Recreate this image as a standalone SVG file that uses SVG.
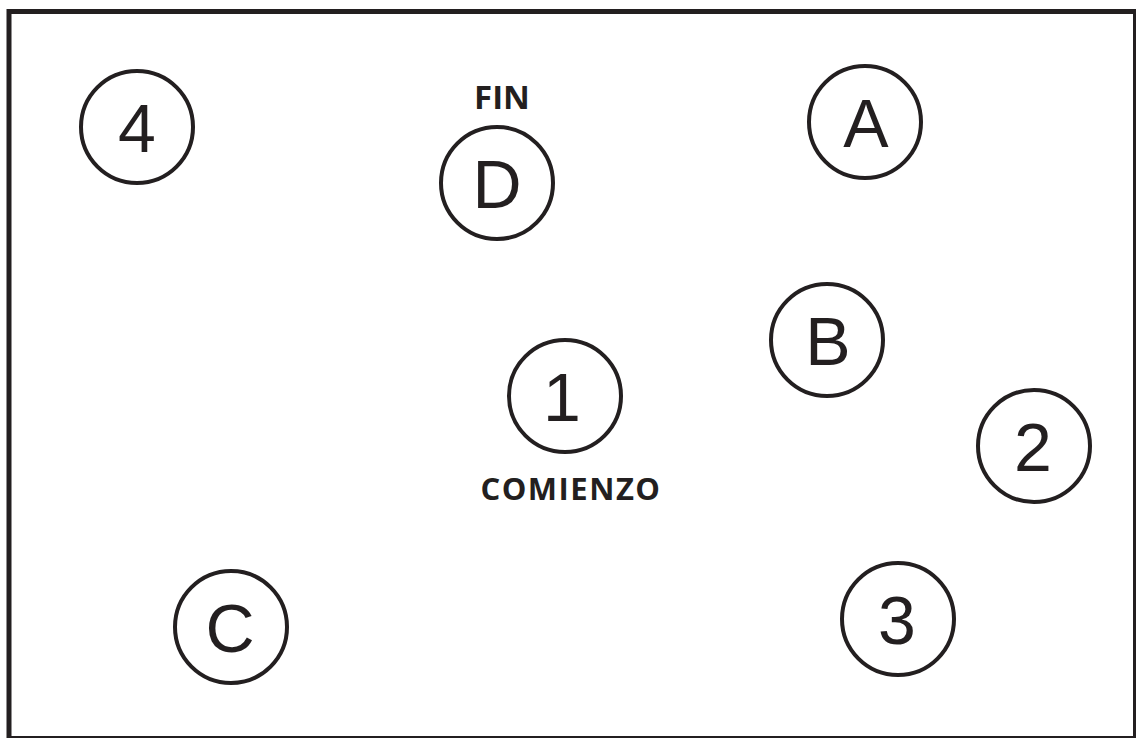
<svg xmlns="http://www.w3.org/2000/svg" width="1136" height="738" viewBox="0 0 1136 738">
<style>
.ring{fill:none;stroke:#231f20;stroke-width:4}
.lbl{font-family:"Liberation Sans",Arial,sans-serif;font-size:68px;fill:#231f20;text-anchor:middle}
.cap{font-family:"Open Sans","Noto Sans",sans-serif;font-weight:bold;fill:#231f20;text-anchor:middle}
</style>
<rect x="0" y="0" width="1136" height="738" fill="#ffffff"/>
<rect id="frame" x="9" y="11.5" width="1126.5" height="727" fill="none" stroke="#231f20" stroke-width="5"/>
<g id="connectors"></g>
<g id="node-4"><circle class="ring" cx="137" cy="127" r="56"/><text class="lbl" x="137" y="152">4</text></g>
<g id="node-D"><circle class="ring" cx="497" cy="183" r="56"/><text class="lbl" x="497" y="208">D</text></g>
<g id="label-fin"><text class="cap" x="502" y="109" font-size="33">FIN</text></g>
<g id="node-A"><circle class="ring" cx="865" cy="122" r="56"/><text class="lbl" x="866" y="147">A</text></g>
<g id="node-B"><circle class="ring" cx="827" cy="340" r="56"/><text class="lbl" x="828" y="365">B</text></g>
<g id="node-1"><circle class="ring" cx="565" cy="396" r="56"/><text class="lbl" x="562" y="421">1</text></g>
<g id="label-comienzo"><text class="cap" x="571" y="500" font-size="31" letter-spacing="1.5">COMIENZO</text></g>
<g id="node-2"><circle class="ring" cx="1034" cy="446" r="56"/><text class="lbl" x="1033" y="471">2</text></g>
<g id="node-C"><circle class="ring" cx="231" cy="627" r="56"/><text class="lbl" x="230" y="652">C</text></g>
<g id="node-3"><circle class="ring" cx="898" cy="619" r="56"/><text class="lbl" x="897" y="644">3</text></g>
</svg>
